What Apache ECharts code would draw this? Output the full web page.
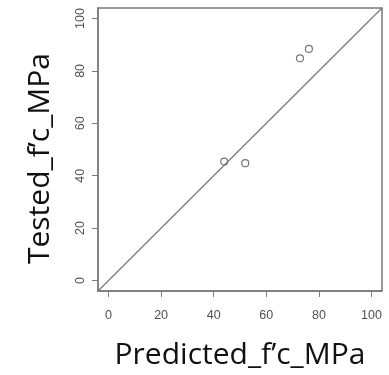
<!DOCTYPE html>
<html><head><meta charset="utf-8">
<script src="https://cdn.jsdelivr.net/npm/echarts@6/dist/echarts.min.js"></script>
<style>html,body{margin:0;padding:0;background:#fff}#c{width:389px;height:375px}</style>
</head><body><div id="c"></div>
<script>
var predicted = [44, 52, 72.8, 76.2];
var tested = [45.4, 44.8, 84.8, 88.4];
var tickValues = [0, 20, 40, 60, 80, 100];
var lineEnds = [-4, 104];
var xTitle = 'Predicted_f\u2019c_MPa';
var yTitle = 'Tested_f\u2019c_MPa';

var pts = predicted.map(function(v, i){ return [v, tested[i]]; });
var diag = lineEnds.map(function(v){ return [v, v]; });
var axisCol = '#7a7a7a';
var chart = echarts.init(document.getElementById('c'));
chart.setOption({
  animation: false,
  grid: {left: 98, right: 7, top: 8, bottom: 80, show: true, borderColor: axisCol, borderWidth: 1.5, backgroundColor: 'transparent'},
  xAxis: {
    type: 'value', min: -4, max: 104,
    splitLine: {show: false},
    axisLine: {show: true, onZero: false, lineStyle: {color: axisCol, width: 1.5}},
    axisTick: {show: true, length: 6, customValues: tickValues, lineStyle: {color: axisCol}},
    axisLabel: {customValues: tickValues, color: '#505050', fontSize: 12.5, fontFamily: 'Liberation Sans', margin: 18},
    name: xTitle, nameLocation: 'middle', nameGap: 49,
    nameTextStyle: {fontSize: 30, color: '#111', fontFamily: 'Open Sans'}
  },
  yAxis: {
    type: 'value', min: -4, max: 104,
    splitLine: {show: false},
    axisLine: {show: true, onZero: false, lineStyle: {color: axisCol, width: 1.5}},
    axisTick: {show: true, length: 6, customValues: tickValues, lineStyle: {color: axisCol}},
    axisLabel: {customValues: tickValues, color: '#505050', fontSize: 12.5, fontFamily: 'Liberation Sans', rotate: 90, margin: 11},
    name: yTitle, nameLocation: 'middle', nameGap: 43, nameRotate: 90,
    nameTextStyle: {fontSize: 30, color: '#111', fontFamily: 'Open Sans', padding: [0, 18, 0, 0]}
  },
  series: [
    {type: 'line', data: diag, symbol: 'none', lineStyle: {color: '#777', width: 1.2}, silent: true},
    {type: 'scatter', data: pts, symbol: 'circle', symbolSize: 7,
     itemStyle: {color: '#fff', borderColor: '#555', borderWidth: 1.2}}
  ]
});
</script></body></html>
